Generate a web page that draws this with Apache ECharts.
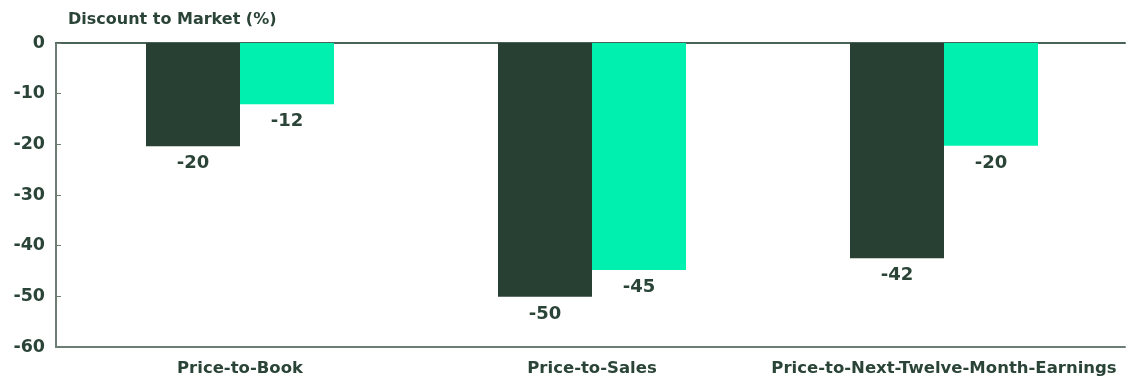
<!DOCTYPE html>
<html>
<head>
<meta charset="utf-8">
<script src="https://cdn.jsdelivr.net/npm/echarts@6/dist/echarts.min.js"></script>
<style>
  html, body { margin: 0; padding: 0; background: #ffffff; }
  #chart { width: 1131px; height: 381px; }
</style>
</head>
<body>
<div id="chart"></div>
<script>
// Valuation metrics compared against the market
const categories = ['Price-to-Book', 'Price-to-Sales', 'Price-to-Next-Twelve-Month-Earnings'];
const seriesA = [-20.4, -50.1, -42.5];
const seriesB = [-12.1, -44.8, -20.3];
const yTicks = { min: -60, max: 0, interval: 10 };

const DARK = '#283f33';
const BRIGHT = '#00f0b0';
const TEXT = '#2b4438';
const LINE = '#6c7d74';
const FONT = '"DejaVu Sans", Verdana, sans-serif';

const valueLabel = {
  show: true,
  position: 'bottom',
  distance: 8,
  color: TEXT,
  fontFamily: FONT,
  fontWeight: 'bold',
  fontSize: 18,
  formatter: p => String(Math.round(p.value))
};

const chart = echarts.init(document.getElementById('chart'), null, { renderer: 'canvas' });
chart.setOption({
  backgroundColor: '#ffffff',
  animation: false,
  title: {
    text: 'Discount to Market (%)',
    left: 63, top: 7,
    textStyle: { color: TEXT, fontFamily: FONT, fontWeight: 'bold', fontSize: 16 }
  },
  grid: [
    // bars
    { left: 64, right: 11, top: 43, bottom: 34 },
    // frame and value scale
    { left: 56, right: 6, top: 43, bottom: 34 }
  ],
  xAxis: [
    {
      type: 'category', gridIndex: 0, data: categories, position: 'bottom',
      axisLine: { show: false }, axisTick: { show: false },
      axisLabel: { interval: 0, color: TEXT, fontFamily: FONT, fontWeight: 'bold', fontSize: 16.5, margin: 13 }
    },
    {
      type: 'category', gridIndex: 1, data: categories, position: 'top',
      axisLine: { show: true, lineStyle: { color: '#4a6357', width: 2 } },
      axisTick: { show: false }, axisLabel: { show: false }
    },
    {
      type: 'category', gridIndex: 1, data: categories, position: 'bottom',
      axisLine: { show: true, lineStyle: { color: LINE, width: 2 } },
      axisTick: { show: false }, axisLabel: { show: false }
    }
  ],
  yAxis: [
    {
      type: 'value', gridIndex: 0, min: yTicks.min, max: yTicks.max, interval: yTicks.interval,
      show: false
    },
    {
      type: 'value', gridIndex: 1, min: yTicks.min, max: yTicks.max, interval: yTicks.interval,
      axisLine: { show: true, lineStyle: { color: LINE, width: 2 } },
      axisTick: { show: true, inside: true, length: 5, lineStyle: { color: LINE, width: 1 } },
      splitLine: { show: false },
      axisLabel: { color: TEXT, fontFamily: FONT, fontWeight: 'bold', fontSize: 17.5, margin: 11 }
    }
  ],
  series: [
    {
      type: 'bar', xAxisIndex: 0, yAxisIndex: 0, data: seriesA,
      barWidth: 94, barGap: '0%',
      itemStyle: { color: DARK }, label: valueLabel
    },
    {
      type: 'bar', xAxisIndex: 0, yAxisIndex: 0, data: seriesB,
      barWidth: 94, barGap: '0%',
      itemStyle: { color: BRIGHT }, label: valueLabel
    }
  ]
});
</script>
</body>
</html>
